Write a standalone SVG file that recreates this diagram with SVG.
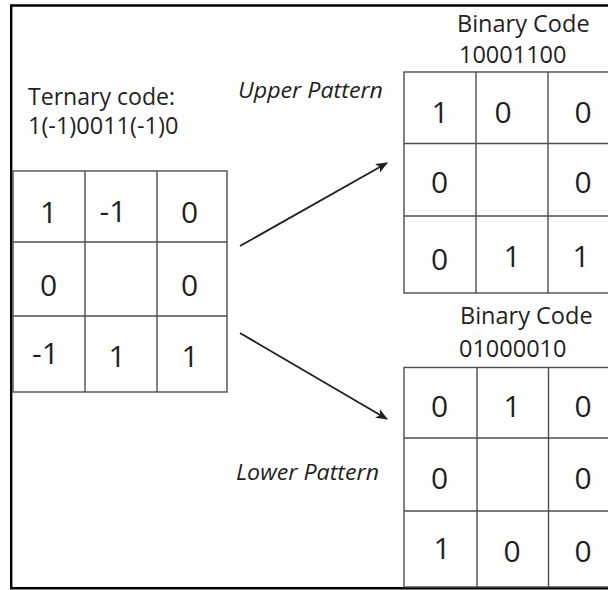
<svg xmlns="http://www.w3.org/2000/svg" width="608" height="590" viewBox="0 0 608 590">
  <defs>
    <style>
      .lbl { font-family: "Open Sans", "Noto Sans", "Liberation Sans", sans-serif; fill: #231f20; }
      .head { font-size: 23.5px; }
      .pat { font-size: 21px; font-style: italic; }
      .dig { font-size: 30px; text-anchor: middle; }
      .grid { fill: #ffffff; stroke: #4d4d4d; stroke-width: 1.4; }
      .gl { stroke: #4d4d4d; stroke-width: 1.4; fill: none; }
      .frame { fill: none; stroke: #000000; stroke-width: 2.4; }
      .conn { stroke: #231f20; stroke-width: 1.8; fill: none; }
    </style>
    <marker id="arrow" viewBox="0 0 12 10" refX="11" refY="5" markerWidth="12" markerHeight="10" markerUnits="userSpaceOnUse" orient="auto">
      <path d="M0,0 L12,5 L0,10 L3,5 Z" fill="#231f20"/>
    </marker>
  </defs>

  <rect width="608" height="590" fill="#ffffff"/>

  <!-- outer frame, open on the right -->
  <path class="frame" d="M608,5.5 H11.2 V588.3 H608"/>

  <!-- ternary source pattern -->
  <g id="ternary">
    <text class="lbl head" x="28" y="105" textLength="147" lengthAdjust="spacingAndGlyphs">Ternary code:</text>
    <text class="lbl head" x="28" y="134">1(-1)0011(-1)0</text>
    <rect class="grid" x="13" y="171" width="214" height="221"/>
    <path class="gl" d="M85,171 V392 M157,171 V392 M13,242 H227 M13,316 H227"/>
    <text class="lbl dig" x="48.5" y="222.5">1</text>
    <text class="lbl dig" x="113" y="222">-1</text>
    <text class="lbl dig" x="189.5" y="222.5">0</text>
    <text class="lbl dig" x="48.5" y="295.5">0</text>
    <text class="lbl dig" x="189.5" y="295.5">0</text>
    <text class="lbl dig" x="45.5" y="363.5">-1</text>
    <text class="lbl dig" x="117" y="367">1</text>
    <text class="lbl dig" x="190" y="367">1</text>
  </g>

  <!-- upper binary pattern -->
  <g id="upper-binary">
    <text class="lbl head" x="457" y="32">Binary Code</text>
    <text class="lbl head" x="459" y="63">10001100</text>
    <rect class="grid" x="404" y="72" width="216" height="221"/>
    <path class="gl" d="M476,72 V293 M548,72 V293 M404,143.5 H620 M404,216 H620"/>
    <text class="lbl dig" x="440" y="123">1</text>
    <text class="lbl dig" x="503" y="123">0</text>
    <text class="lbl dig" x="583" y="123">0</text>
    <text class="lbl dig" x="439.5" y="193">0</text>
    <text class="lbl dig" x="583" y="193">0</text>
    <text class="lbl dig" x="439.5" y="269.5">0</text>
    <text class="lbl dig" x="512" y="267">1</text>
    <text class="lbl dig" x="581" y="267">1</text>
  </g>

  <!-- lower binary pattern -->
  <g id="lower-binary">
    <text class="lbl head" x="460" y="323.5">Binary Code</text>
    <text class="lbl head" x="459" y="357">01000010</text>
    <rect class="grid" x="404" y="367.5" width="216" height="219.5"/>
    <path class="gl" d="M477,367.5 V587 M548.5,367.5 V587 M404,438 H620 M404,511 H620"/>
    <text class="lbl dig" x="439.5" y="417">0</text>
    <text class="lbl dig" x="512" y="417">1</text>
    <text class="lbl dig" x="583" y="417">0</text>
    <text class="lbl dig" x="439.5" y="488.5">0</text>
    <text class="lbl dig" x="583" y="488.5">0</text>
    <text class="lbl dig" x="442" y="558.5">1</text>
    <text class="lbl dig" x="512" y="562">0</text>
    <text class="lbl dig" x="583" y="562">0</text>
  </g>

  <!-- pattern labels -->
  <g id="upper-label">
    <text class="lbl pat" x="238" y="98" textLength="145" lengthAdjust="spacingAndGlyphs">Upper Pattern</text>
  </g>
  <g id="lower-label">
    <text class="lbl pat" x="236" y="480" textLength="143" lengthAdjust="spacingAndGlyphs">Lower Pattern</text>
  </g>

  <!-- connectors -->
  <g id="connectors">
    <line class="conn" x1="240" y1="246" x2="387" y2="163" marker-end="url(#arrow)"/>
    <line class="conn" x1="240" y1="333" x2="387" y2="419" marker-end="url(#arrow)"/>
  </g>
</svg>
